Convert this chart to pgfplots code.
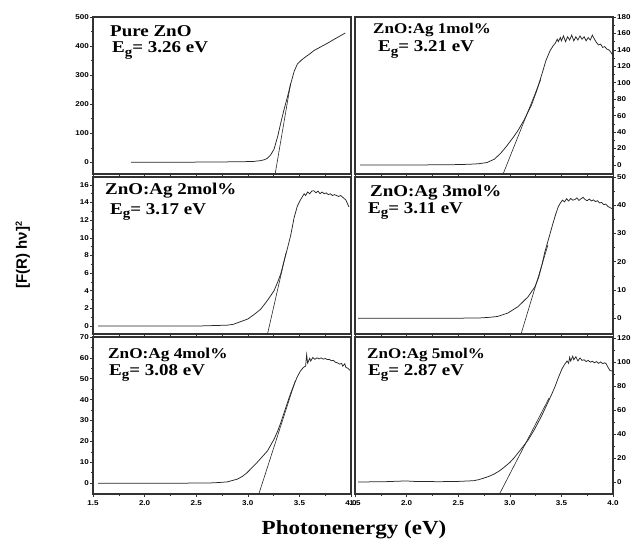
\documentclass[border=0pt]{standalone}
\usepackage{fontspec}
\usepackage{pgfplots}
\pgfplotsset{compat=1.18}
\setmainfont{Liberation Serif}
\setsansfont{Liberation Sans}
\newfontfamily\lblfont[FakeStretch=1.15]{Liberation Serif}
\newfontfamily\tickfont[FakeStretch=1.15]{Liberation Sans}
\newcommand{\Eg}[2]{{\lblfont\bfseries\fontsize{#1}{#1}\selectfont E\raisebox{-0.5ex}{\fontsize{13}{13}\selectfont g}= #2 eV}}
\pgfplotsset{
 panel/.style={scale only axis, width=258pt, height=157pt, xmin=1.5, xmax=4.0, anchor=north west,
   axis line style={line width=1.2pt, black!80},
   every tick/.style={black!80, line width=0.6pt},
   major tick length=3pt, minor tick length=1.8pt,
   xtick={1.5,2,2.5,3,3.5,4}, minor x tick num=1, minor y tick num=1,
   ticklabel style={font=\tickfont\bfseries\fontsize{7}{8}\selectfont},
   y tick label style={inner sep=1pt},
   /pgf/number format/assume math mode=true,
   x tick label style={/pgf/number format/fixed, /pgf/number format/fixed zerofill, /pgf/number format/precision=1},
   tick align=outside, xtick pos=bottom},
 leftpanel/.style={ytick pos=left},
 rightpanel/.style={ytick pos=right, yticklabel pos=right},
 upper/.style={xticklabels={}},
 curve/.style={black!85, line width=0.75pt, no marks},
 tangent/.style={black!85, line width=0.6pt, no marks},
}
\begin{document}
\begin{tikzpicture}
\path[use as bounding box] (0pt,0pt) rectangle (632pt,-543pt);
% Panel 1
\begin{axis}[panel, leftpanel, upper, at={(93pt,-17pt)}, ymin=-40, ymax=500, ytick={0,100,...,500}]
\addplot[curve] coordinates {(1.87,0)(2.0,0.3)(2.3,0.5)(2.6,1)(2.9,2)(3.05,3)(3.124,6)(3.16,9)(3.19,14)(3.22,25)(3.254,45)(3.29,90)(3.319,135)(3.35,180)(3.384,225)(3.416,270)(3.449,313)(3.48,338)(3.52,352)(3.56,363)(3.60,373)(3.643,385)(3.70,396)(3.773,410)(3.85,426)(3.90,436)(3.945,445)};
\addplot[tangent] coordinates {(3.265,-40)(3.415,272)};
\end{axis}
% Panel 2
\begin{axis}[panel, rightpanel, upper, at={(355pt,-17pt)}, ymin=-11, ymax=180, ytick={0,20,...,180}]
\addplot[curve] coordinates {(1.55,0)(2.0,0)(2.4,0.2)(2.6,0.8)(2.7,1.5)(2.78,3)(2.85,7)(2.91,14)(2.97,23)(3.03,33)(3.08,42)(3.14,55)(3.21,73)(3.26,90)(3.31,110)(3.35,127)(3.39,139)(3.42,145)(3.44,148)(3.46,153)(3.47,150)(3.49,155)(3.50,151)(3.52,157)(3.54,150)(3.56,156)(3.58,152)(3.60,158)(3.62,151)(3.64,156)(3.66,152)(3.68,157)(3.70,153)(3.72,156)(3.74,151)(3.76,155)(3.78,152)(3.80,158)(3.82,153)(3.84,149)(3.86,146)(3.88,147)(3.90,143)(3.92,144)(3.94,141)(3.96,140)(3.98,137)(4.0,133)};
\addplot[tangent] coordinates {(2.935,-11)(3.30,104)};
\end{axis}
% Panel 3
\begin{axis}[panel, leftpanel, upper, at={(93pt,-177pt)}, ymin=-0.9, ymax=16.9, ytick={0,2,...,16}]
\addplot[curve] coordinates {(1.55,0)(2.0,0)(2.5,0)(2.8,0.1)(2.86,0.2)(2.93,0.5)(3.0,0.8)(3.06,1.3)(3.124,1.9)(3.19,2.9)(3.254,4.0)(3.29,5.0)(3.319,5.9)(3.35,7.3)(3.384,8.8)(3.416,10.3)(3.449,12.3)(3.48,13.6)(3.51,14.3)(3.546,15.0)(3.56,14.8)(3.58,15.2)(3.60,15.0)(3.62,15.3)(3.64,15.35)(3.66,15.1)(3.68,15.3)(3.70,15.0)(3.72,15.2)(3.74,15.0)(3.76,15.1)(3.78,14.9)(3.80,15.0)(3.82,14.8)(3.84,14.9)(3.86,14.8)(3.88,14.7)(3.90,14.8)(3.92,14.6)(3.95,14.3)(3.98,13.5)};
\addplot[tangent] coordinates {(3.19,-0.95)(3.37,8.3)};
\end{axis}
% Panel 4
\begin{axis}[panel, rightpanel, upper, at={(355pt,-177pt)}, ymin=-5.6, ymax=50, ytick={0,10,...,50}]
\addplot[curve] coordinates {(1.53,0)(2.0,0)(2.5,0)(2.715,0.1)(2.80,0.3)(2.88,0.6)(2.98,1.8)(3.08,4.1)(3.177,7.6)(3.243,11.1)(3.28,14.5)(3.31,18.7)(3.34,23.5)(3.375,28)(3.41,32.5)(3.44,36.3)(3.47,39.5)(3.49,40.8)(3.51,41.8)(3.53,41.2)(3.55,42.3)(3.57,41.5)(3.59,42.4)(3.61,41.8)(3.63,42.0)(3.65,42.6)(3.67,41.7)(3.69,42.3)(3.71,42.8)(3.73,42.0)(3.75,41.6)(3.77,42.2)(3.79,41.5)(3.81,41.9)(3.83,41.3)(3.85,41.6)(3.87,40.8)(3.89,41.0)(3.91,40.2)(3.93,40.4)(3.95,39.6)(3.97,39.2)(3.99,38.8)};
\addplot[tangent] coordinates {(3.11,-5.5)(3.37,26)};
\end{axis}
% Panel 5
\begin{axis}[panel, leftpanel, at={(93pt,-337pt)}, ymin=-5.2, ymax=70, ytick={0,10,...,70}]
\addplot[curve] coordinates {(1.55,0)(2.0,0)(2.4,0)(2.638,0.1)(2.72,0.3)(2.80,0.6)(2.898,1.9)(2.95,3.3)(2.995,5.1)(3.09,9.9)(3.19,15.4)(3.254,21)(3.29,25)(3.32,29)(3.35,33.5)(3.384,38.5)(3.415,43)(3.449,47.3)(3.48,51)(3.51,53.7)(3.54,55.5)(3.56,56)(3.57,61.5)(3.58,57.5)(3.60,59.8)(3.61,58.5)(3.63,60.2)(3.65,59.3)(3.67,60.0)(3.69,59.5)(3.71,60.0)(3.73,59.4)(3.75,59.7)(3.77,59.2)(3.79,59.3)(3.81,58.6)(3.83,58.8)(3.85,57.9)(3.87,57.6)(3.89,57.0)(3.91,57.3)(3.92,56.0)(3.94,57.2)(3.95,55.5)(3.97,55.0)(3.99,54.0)};
\addplot[tangent] coordinates {(3.107,-5.2)(3.46,49)};
\end{axis}
% Panel 6
\begin{axis}[panel, rightpanel, at={(355pt,-337pt)}, ymin=-10, ymax=121, ytick={0,20,...,120}]
\addplot[curve] coordinates {(1.53,0)(1.8,0.3)(1.99,0.9)(2.1,0.4)(2.33,0.3)(2.5,0.5)(2.65,1.1)(2.70,2)(2.75,3.3)(2.80,4.8)(2.847,6.6)(2.90,9.3)(2.946,12.4)(3.0,16.3)(3.045,20.5)(3.11,27.5)(3.177,35)(3.24,44)(3.31,55.5)(3.34,61)(3.375,67.5)(3.41,74)(3.44,80)(3.47,87)(3.506,94.5)(3.53,98)(3.555,101)(3.57,99)(3.58,104)(3.59,101)(3.61,105)(3.62,102)(3.64,104.5)(3.66,101)(3.68,103.5)(3.70,101.5)(3.72,102)(3.74,100.5)(3.76,101.5)(3.78,100)(3.80,100.8)(3.82,99.5)(3.84,100.5)(3.86,99)(3.88,100.2)(3.90,98.8)(3.92,99.5)(3.934,98.6)(3.95,96)(3.97,93)(4.0,92.5)};
\addplot[tangent] coordinates {(2.90,-10)(3.38,70)};
\end{axis}
% Panel labels
\node[anchor=base west, inner sep=0pt] at (110pt,-37pt) {\lblfont\bfseries\fontsize{16.5}{16.5}\selectfont Pure ZnO};
\node[anchor=base west, inner sep=0pt] at (112pt,-53pt) {\Eg{16.5}{3.26}};
\node[anchor=base west, inner sep=0pt] at (373pt,-34pt) {\lblfont\bfseries\fontsize{14.8}{14.8}\selectfont ZnO:Ag 1mol\%};
\node[anchor=base west, inner sep=0pt] at (378pt,-52pt) {\Eg{16.5}{3.21}};
\node[anchor=base west, inner sep=0pt] at (105pt,-194pt) {\lblfont\bfseries\fontsize{16.5}{16.5}\selectfont ZnO:Ag 2mol\%};
\node[anchor=base west, inner sep=0pt] at (110pt,-214pt) {\Eg{16.5}{3.17}};
\node[anchor=base west, inner sep=0pt] at (370pt,-196pt) {\lblfont\bfseries\fontsize{16.5}{16.5}\selectfont ZnO:Ag 3mol\%};
\node[anchor=base west, inner sep=0pt] at (368pt,-213pt) {\Eg{16.5}{3.11}};
\node[anchor=base west, inner sep=0pt] at (108pt,-358pt) {\lblfont\bfseries\fontsize{15}{15}\selectfont ZnO:Ag 4mol\%};
\node[anchor=base west, inner sep=0pt] at (109pt,-375pt) {\Eg{16.5}{3.08}};
\node[anchor=base west, inner sep=0pt] at (367pt,-358pt) {\lblfont\bfseries\fontsize{14.8}{14.8}\selectfont ZnO:Ag 5mol\%};
\node[anchor=base west, inner sep=0pt] at (368pt,-375pt) {\Eg{16.5}{2.87}};
% Axis titles
\node[anchor=base, inner sep=0pt] at (354pt,-534pt) {\lblfont\bfseries\fontsize{20}{20}\selectfont Photonenergy (eV)};
\node[anchor=base, rotate=90, inner sep=0pt] at (27pt,-255pt) {\sffamily\bfseries\fontsize{15}{15}\selectfont [F(R) hν]\textsuperscript{\fontsize{9}{9}\selectfont 2}};
\end{tikzpicture}
\end{document}
